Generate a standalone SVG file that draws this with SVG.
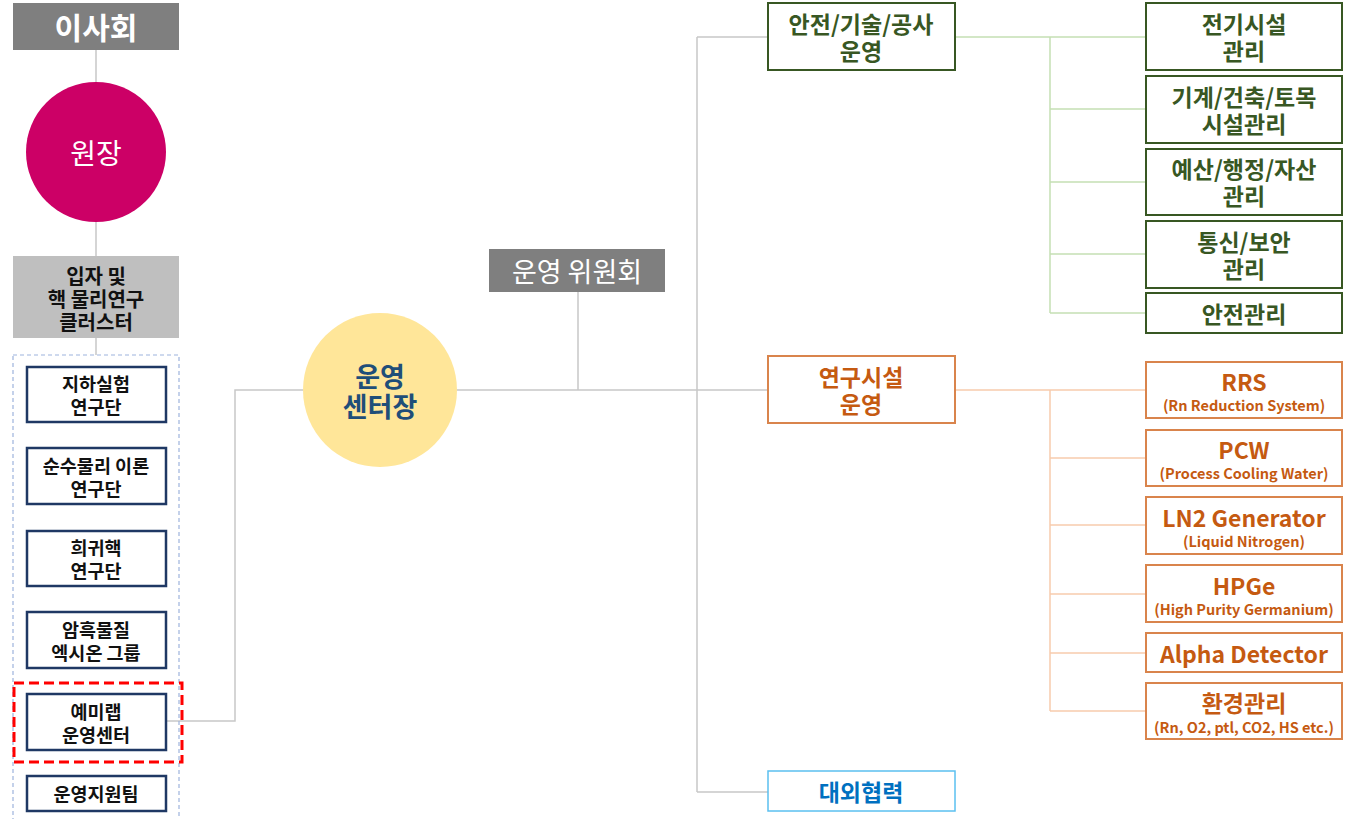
<svg xmlns="http://www.w3.org/2000/svg" width="1350" height="819" viewBox="0 0 1350 819">
<style>
text{font-family:"Noto Sans CJK KR","Malgun Gothic",sans-serif;text-anchor:middle;dominant-baseline:central;font-weight:bold}
.w{fill:#fff}
.navybox{fill:#fff;stroke:#1f3864;stroke-width:2.5}
.nt{font-size:18.5px;fill:#111}
.ct{font-size:20px;fill:#111}
.gbox{fill:#fff;stroke:#385723;stroke-width:2}
.gt{font-size:23px;fill:#385723}
.obox{fill:#fff;stroke:#d9844c;stroke-width:2}
.ot{font-size:23px;fill:#c55a11}
.os{font-size:14.5px;fill:#c55a11}
.gray{stroke:#c8c8c8;stroke-width:1.5;fill:none}
.lg{stroke:#c5e0b4;stroke-width:1.5;fill:none}
.lo{stroke:#f8cbad;stroke-width:1.5;fill:none}
</style>
<rect width="1350" height="819" fill="#fff"/>
<g id="connectors">
<path class="gray" d="M96 50V256M96 338V355"/>
<path class="gray" d="M166 721H235V390H303"/>
<path class="gray" d="M457 390H768M578 292V390M697 37V792M697 37H768M697 792H768"/>
<path class="lg" d="M955 37H1146M1050 37V313M1050 109H1146M1050 182H1146M1050 254H1146M1050 313H1146"/>
<path class="lo" d="M955 390H1146M1050 390V711M1050 458H1146M1050 525H1146M1050 594H1146M1050 653H1146M1050 711H1146"/>
</g>
<g id="board"><rect x="13" y="3" width="166" height="47" fill="#7f7f7f"/><text class="w" x="96" y="26" style="font-size:30px">이사회</text></g>
<g id="director"><circle cx="96" cy="152" r="70" fill="#cc0066"/><text class="w" x="96" y="152" style="font-size:28px;font-weight:normal">원장</text></g>
<g id="cluster"><rect x="13" y="256" width="166" height="82" fill="#bfbfbf"/><text class="ct" x="96" y="275">입자 및<tspan x="96" dy="23">핵 물리연구</tspan><tspan x="96" dy="23">클러스터</tspan></text></g>
<g id="group"><rect x="13" y="355" width="166" height="470" fill="none" stroke="#9db3dd" stroke-width="1.2" stroke-dasharray="4,3"/></g>
<g id="n1"><rect class="navybox" x="27" y="367" width="139" height="55"/><text class="nt" x="96" y="383">지하실험<tspan x="96" dy="23">연구단</tspan></text></g>
<g id="n2"><rect class="navybox" x="27" y="448" width="139" height="56"/><text class="nt" x="96" y="465">순수물리 이론<tspan x="96" dy="23">연구단</tspan></text></g>
<g id="n3"><rect class="navybox" x="27" y="531" width="139" height="55"/><text class="nt" x="96" y="547">희귀핵<tspan x="96" dy="23">연구단</tspan></text></g>
<g id="n4"><rect class="navybox" x="27" y="612" width="139" height="56"/><text class="nt" x="96" y="629">암흑물질<tspan x="96" dy="23">엑시온 그룹</tspan></text></g>
<g id="n5"><rect class="navybox" x="27" y="694" width="139" height="56"/><text class="nt" x="96" y="711">예미랩<tspan x="96" dy="23">운영센터</tspan></text></g>
<g id="highlight"><rect x="14" y="683" width="168" height="79" fill="none" stroke="#ff0000" stroke-width="3" stroke-dasharray="10,5"/></g>
<g id="n6"><rect class="navybox" x="27" y="776" width="139" height="35"/><text class="nt" x="96" y="793">운영지원팀</text></g>
<g id="center"><circle cx="380" cy="390" r="77" fill="#ffe699"/><text x="380" y="375" style="font-size:27px;fill:#1f4e79">운영<tspan x="380" dy="30">센터장</tspan></text></g>
<g id="committee"><rect x="489" y="249" width="176" height="43" fill="#7f7f7f"/><text class="w" x="577" y="270" style="font-size:27px;font-weight:normal">운영 위원회</text></g>
<g id="safety"><rect class="gbox" x="768" y="3" width="187" height="67"/><text class="gt" x="861" y="23">안전/기술/공사<tspan x="861" dy="27">운영</tspan></text></g>
<g id="g1"><rect class="gbox" x="1146" y="3" width="196" height="67"/><text class="gt" x="1244" y="23">전기시설<tspan x="1244" dy="27">관리</tspan></text></g>
<g id="g2"><rect class="gbox" x="1146" y="76" width="196" height="67"/><text class="gt" x="1244" y="96">기계/건축/토목<tspan x="1244" dy="27">시설관리</tspan></text></g>
<g id="g3"><rect class="gbox" x="1146" y="149" width="196" height="66"/><text class="gt" x="1244" y="168">예산/행정/자산<tspan x="1244" dy="27">관리</tspan></text></g>
<g id="g4"><rect class="gbox" x="1146" y="221" width="196" height="67"/><text class="gt" x="1244" y="241">통신/보안<tspan x="1244" dy="27">관리</tspan></text></g>
<g id="g5"><rect class="gbox" x="1146" y="293" width="196" height="40"/><text class="gt" x="1244" y="313">안전관리</text></g>
<g id="research"><rect class="obox" x="768" y="356" width="187" height="67"/><text class="ot" x="861" y="376">연구시설<tspan x="861" dy="27">운영</tspan></text></g>
<g id="o1"><rect class="obox" x="1146" y="362" width="196" height="56"/><text class="ot" x="1244" y="381">RRS<tspan class="os" x="1244" dy="23">(Rn Reduction System)</tspan></text></g>
<g id="o2"><rect class="obox" x="1146" y="430" width="196" height="56"/><text class="ot" x="1244" y="449">PCW<tspan class="os" x="1244" dy="23">(Process Cooling Water)</tspan></text></g>
<g id="o3"><rect class="obox" x="1146" y="497" width="196" height="57"/><text class="ot" x="1244" y="517">LN2 Generator<tspan class="os" x="1244" dy="23">(Liquid Nitrogen)</tspan></text></g>
<g id="o4"><rect class="obox" x="1146" y="565" width="196" height="57"/><text class="ot" x="1244" y="585">HPGe<tspan class="os" x="1244" dy="23">(High Purity Germanium)</tspan></text></g>
<g id="o5"><rect class="obox" x="1146" y="633" width="196" height="39"/><text class="ot" x="1244" y="653">Alpha Detector</text></g>
<g id="o6"><rect class="obox" x="1146" y="683" width="196" height="56"/><text class="ot" x="1244" y="702">환경관리<tspan class="os" x="1244" dy="24">(Rn, O2, ptl, CO2, HS etc.)</tspan></text></g>
<g id="external"><rect x="768" y="771" width="187" height="40" fill="#fff" stroke="#5bc0f0" stroke-width="1.5"/><text x="861" y="791" style="font-size:23px;fill:#0070c0">대외협력</text></g>
</svg>
